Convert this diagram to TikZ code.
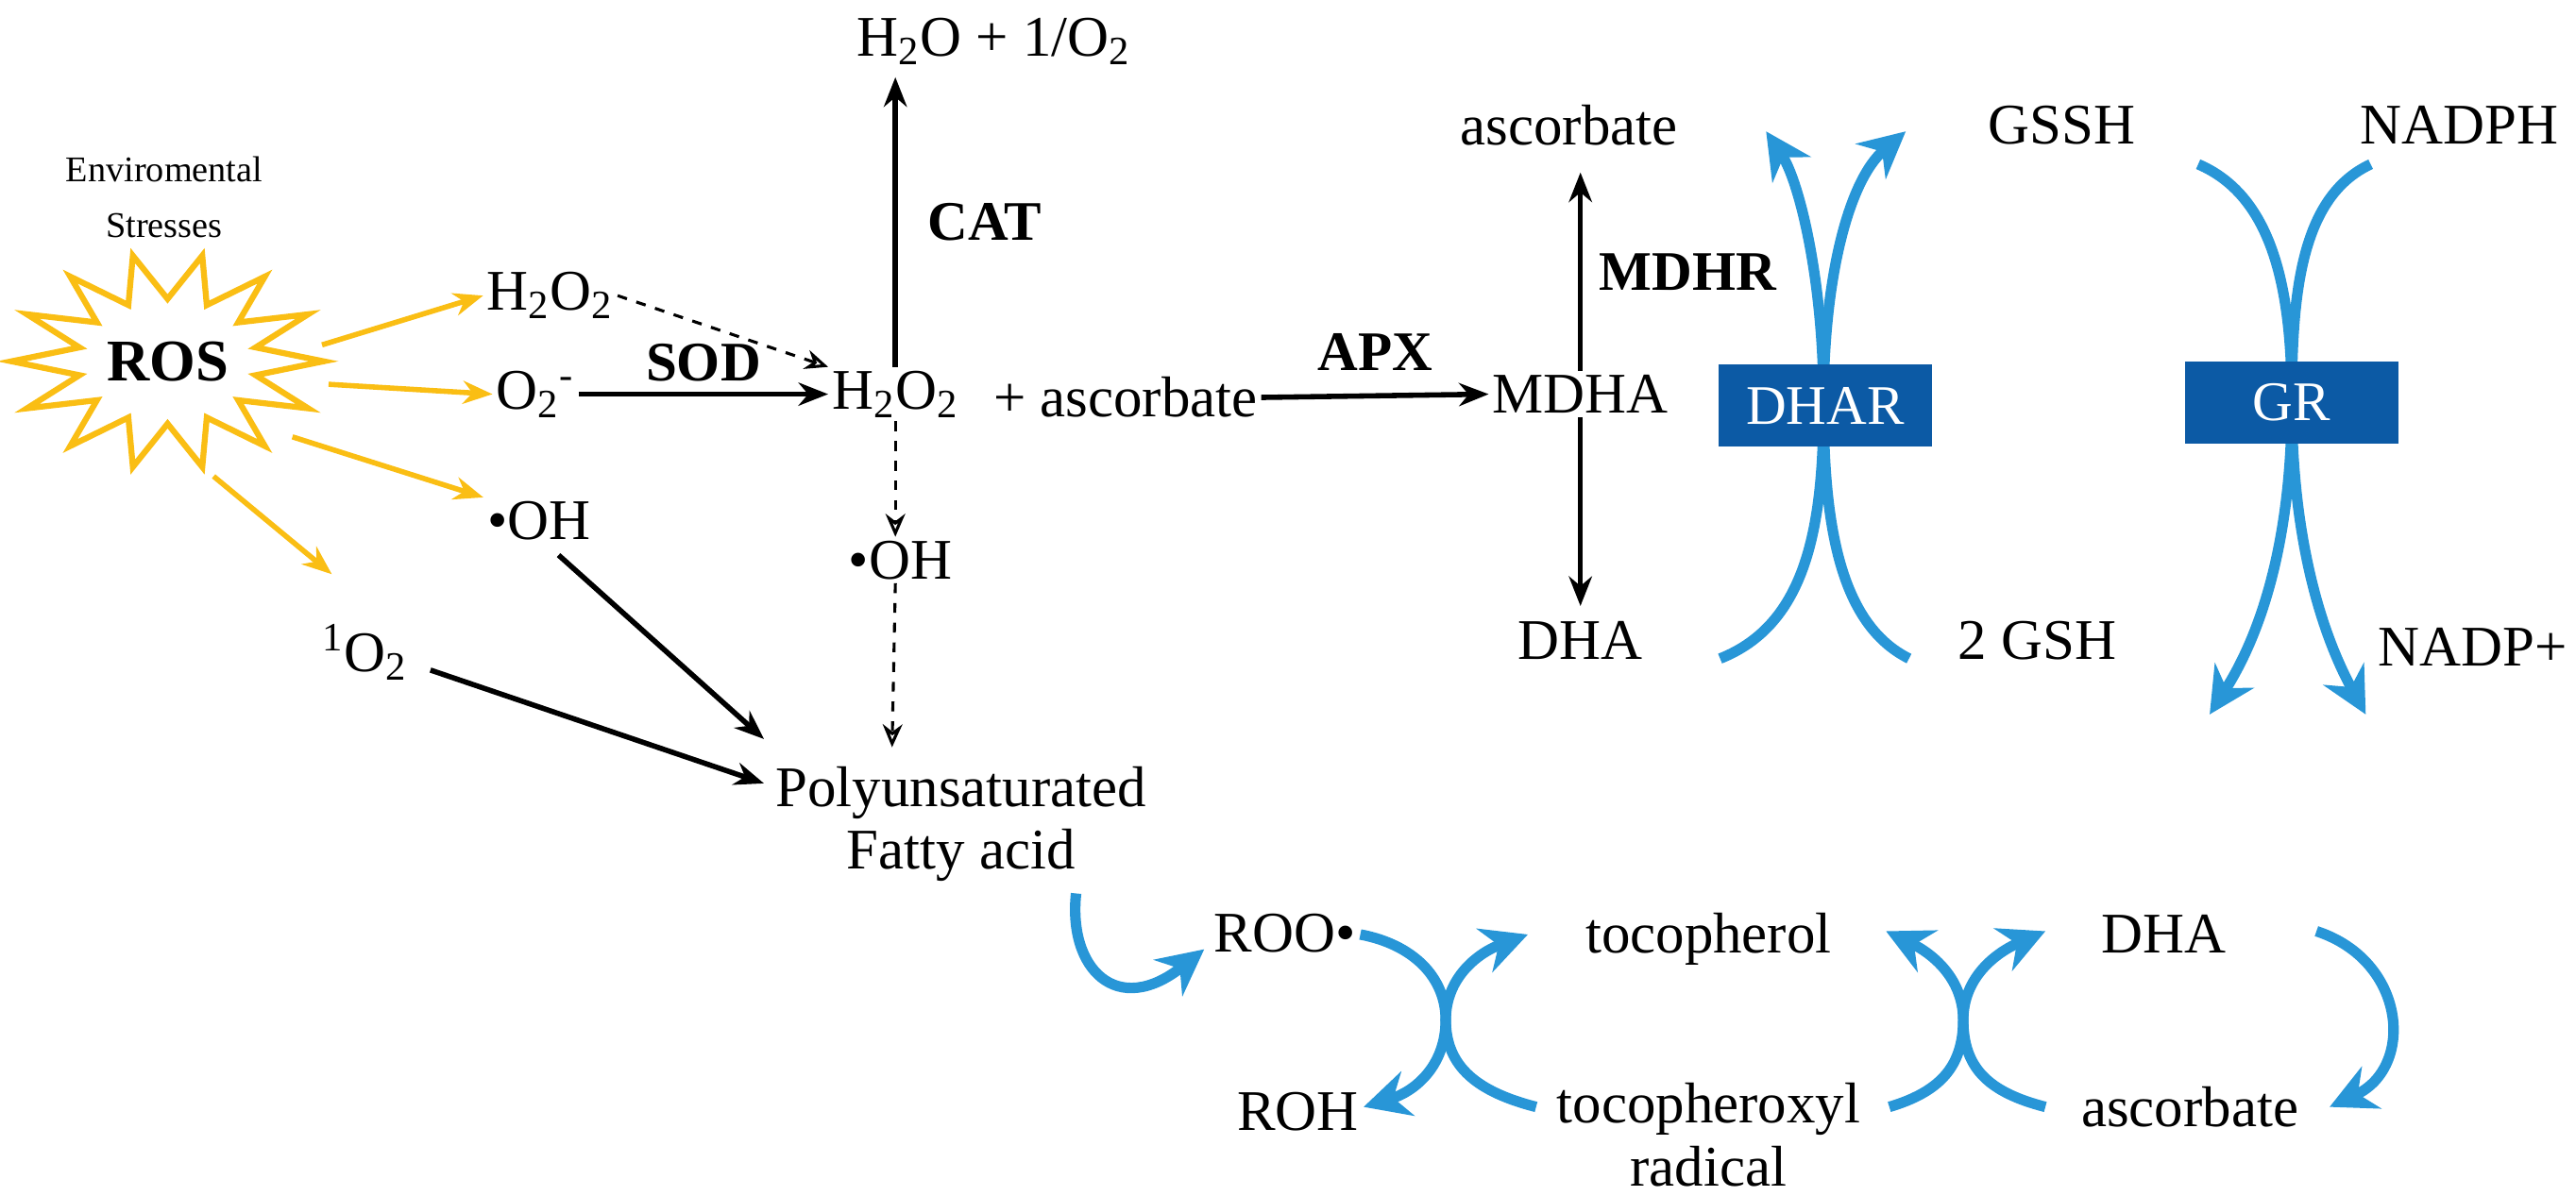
\documentclass[tikz,border=0pt]{standalone}
\usepackage{fontspec}
\setmainfont{Liberation Serif}
\usetikzlibrary{arrows.meta}
\definecolor{ylw}{RGB}{250,190,20}
\definecolor{lb}{RGB}{40,150,215}
\definecolor{db}{RGB}{12,90,165}
\begin{document}
\begin{tikzpicture}[x=0.5pt,y=-0.5pt,
 t/.style={font=\fontsize{17.5}{19}\selectfont,inner sep=1pt},
 lab/.style={font=\bfseries\fontsize{17}{20}\selectfont,inner sep=1pt},
 yar/.style={draw=ylw,line width=1.6pt,-{Stealth[length=9pt,width=7pt]}},
 bar/.style={line width=1.6pt,-{Stealth[length=9pt,width=7pt]}},
 dar/.style={line width=0.9pt,dashed,-{Stealth[length=7pt,width=6pt,open]}},
 bl/.style={draw=lb,line width=3.2pt,-{Stealth[length=14pt,width=14pt]}},
 box/.style={fill=db,text=white,minimum width=65pt,minimum height=25pt,font=\fontsize{17}{20}\selectfont}]
\useasboundingbox (0,0) rectangle (1568,728);
% star
\draw[ylw,line width=1.8pt,fill=white] plot[samples=29,domain=0:28] ({102+ifthenelse(mod(\x,2)==0,95,55)*cos(\x*360/28)},{220+ifthenelse(mod(\x,2)==0,66,38)*sin(\x*360/28)}) -- cycle;
\node[t,font=\bfseries\fontsize{18}{20}\selectfont] (ros) at (102,220) {ROS};
\node[font=\fontsize{11}{17}\selectfont,align=center] (env) at (100,120) {Enviromental\\Stresses};
\coordinate (s1) at (196,210); \coordinate (s2) at (200,234);
\coordinate (s3) at (178,266); \coordinate (s4) at (130,290);
% species
\node[t] (h2o2a) at (335,180) {H\textsubscript{2}O\textsubscript{2}};
\node[t] (o2) at (326,240) {O\textsubscript{2}\textsuperscript{-}};
\node[t] (oh1) at (328,317) {\textbullet OH};
\node[t] (so2) at (222,397) {\textsuperscript{1}O\textsubscript{2}};
\draw[yar] (s1) -- (h2o2a.west);
\draw[yar] (s2) -- (o2.west);
\draw[yar] (s3) -- (oh1.north west);
\draw[yar] (s4) -- ([xshift=-10pt,yshift=14pt]so2.north);
\node[t] (h2o2) at (545,240) {H\textsubscript{2}O\textsubscript{2}};
\node[t] (asc) at (685,242) {+ ascorbate};
\node[t] (top) at (605,25) {H\textsubscript{2}O + 1/O\textsubscript{2}};
\node[t] (oh2) at (548,341) {\textbullet OH};
\node[t,align=center] (pufa) at (585,502) {Polyunsaturated\\Fatty acid};
\draw[dar] (h2o2a.east) -- (h2o2.north west);
\draw[bar] (o2.east) -- node[lab,above=2pt]{SOD} (h2o2.west);
\draw[bar] (h2o2.north) -- node[lab,right=8pt]{CAT} (545,47);
\draw[dar] (h2o2.south) -- (oh2.north -| h2o2.south);
\draw[dar] (oh2.south -| h2o2.south) -- (543,455);
\draw[bar] (340,338) -- (465,450);
\draw[bar] (262,408) -- (465,477);
\node[t] (mdha) at (962,240) {MDHA};
\node[t] (asc2) at (955,76) {ascorbate};
\node[t] (dha) at (962,390) {DHA};
\draw[bar] (asc.east) -- node[lab,above=6pt]{APX} (mdha.west);
\draw[bar] (mdha.north) -- node[lab,right=4pt]{MDHR} (962,105);
\draw[bar] (mdha.south) -- (962,369);
% DHAR / GR
\node[t] (gssh) at (1255,76) {GSSH};
\node[t] (gsh) at (1240,390) {2 GSH};
\node[t] (nadph) at (1497,76) {NADPH};
\node[t] (nadp) at (1505,394) {NADP+};
\coordinate (d1) at (1047,401); \coordinate (d2) at (1162,401);
\coordinate (d3) at (1075,80); \coordinate (d4) at (1160,80);
\draw[bl] (d1) .. controls (1100,380) and (1110,320) .. (1110,245) .. controls (1110,170) and (1125,110) .. (d4);
\draw[bl] (d2) .. controls (1120,380) and (1110,320) .. (1110,245) .. controls (1110,170) and (1095,110) .. (d3);
\node[box] (dhar) at (1111,247) {DHAR};
\coordinate (g1) at (1338,100); \coordinate (g2) at (1443,100);
\coordinate (g3) at (1345,435); \coordinate (g4) at (1440,435);
\draw[bl] (g1) .. controls (1385,120) and (1395,180) .. (1395,245) .. controls (1395,320) and (1410,380) .. (g4);
\draw[bl] (g2) .. controls (1400,120) and (1395,180) .. (1395,245) .. controls (1395,320) and (1380,380) .. (g3);
\node[box] (gr) at (1395,245) {GR};
% bottom cycle
\node[t] (roo) at (782,568) {ROO\textbullet};
\node[t] (roh) at (790,677) {ROH};
\node[t] (toc) at (1040,572) {tocopherol};
\node[t,align=center] (tocr) at (1040,691) {tocopheroxyl\\radical};
\node[t] (dha2) at (1317,569) {DHA};
\node[t] (asc3) at (1333,674) {ascorbate};
\coordinate (x1) at (880,621); \coordinate (x2) at (1195,621);
\draw[bl] (655,544) .. controls (650,590) and (680,620) .. (733,578);
\draw[bl] (828,569) .. controls (860,575) and (880,595) .. (x1) .. controls (880,650) and (860,665) .. (830,674);
\draw[bl] (935,674) .. controls (900,665) and (880,650) .. (x1) .. controls (880,595) and (900,580) .. (930,569);
\draw[bl] (1150,674) .. controls (1180,665) and (1195,650) .. (x2) .. controls (1195,595) and (1175,580) .. (1148,567);
\draw[bl] (1245,674) .. controls (1210,665) and (1195,650) .. (x2) .. controls (1195,595) and (1215,580) .. (1245,567);
\draw[bl] (1410,567) .. controls (1465,585) and (1470,650) .. (1418,674);
\end{tikzpicture}
\end{document}
